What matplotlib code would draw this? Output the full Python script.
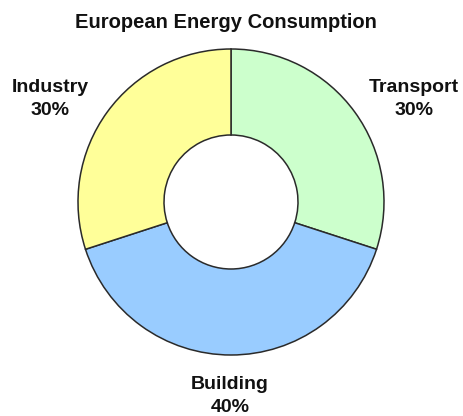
import matplotlib
matplotlib.use('Agg')
from matplotlib import pyplot as plt

sectors = ['Transport', 'Building', 'Industry']
shares = [30, 40, 30]
colors = ['#ccffcc', '#99ccff', '#ffff99']

plt.rcParams['font.family'] = ['Liberation Sans', 'DejaVu Sans']

fig = plt.figure(figsize=(4.64, 4.16), dpi=100)
ax = fig.add_axes([0, 0, 1, 1])

ax.pie(shares, colors=colors, startangle=90, counterclock=False,
       center=(231, 214), radius=153, frame=True,
       wedgeprops=dict(width=86, edgecolor='#2a2a2a', linewidth=1.1))
ax.set_xlim(0, 464)
ax.set_ylim(0, 416)
ax.axis('off')

# label positions (pixels from bottom-left)
label_pos = {'Transport': (414, 317), 'Building': (230, 20), 'Industry': (50, 317)}
for name, val in zip(sectors, shares):
    x, y = label_pos[name]
    ax.text(x, y, f'{name}\n{val}%', ha='center', va='center',
            fontsize=14, fontweight='bold', color='#111111', linespacing=1.45)

ax.text(226, 394, 'European Energy Consumption', ha='center', va='center',
        fontsize=14.5, fontweight='bold', color='#111111')

fig.savefig('out.png', dpi=100)
